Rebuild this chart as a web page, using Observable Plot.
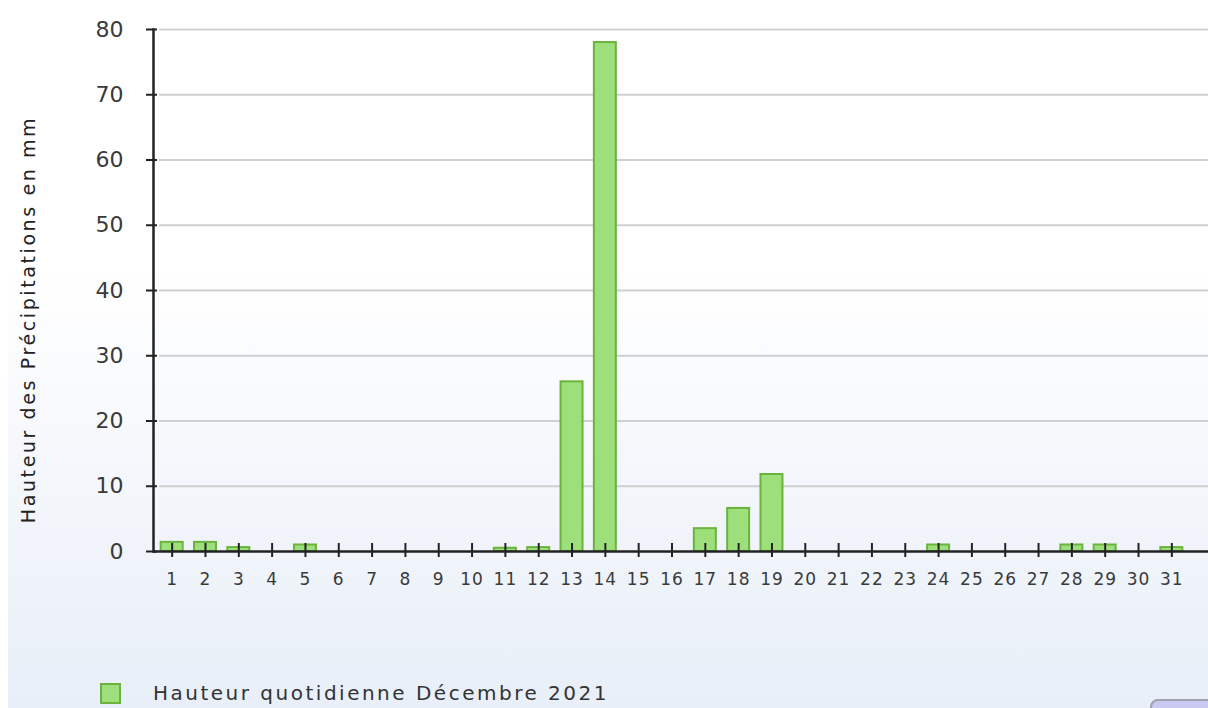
<!DOCTYPE html>
<html>
<head>
<meta charset="utf-8">
<script src="https://cdn.jsdelivr.net/npm/d3@7"></script>
<script src="https://cdn.jsdelivr.net/npm/@observablehq/plot@0.6"></script>
<style>
  html, body { margin: 0; padding: 0; width: 1208px; height: 708px; overflow: hidden; background: #ffffff; }
  #panel { position: absolute; left: 8px; top: 0; width: 1200px; height: 708px;
    background: linear-gradient(to bottom, #ffffff 0%, #ffffff 38%, #f3f6fb 70%, #e8eff8 100%); }
  #chart { position: absolute; left: 0; top: 0; }
  #chart svg { background: transparent; }
  #chart g[aria-label="text"] text { letter-spacing: 2.6px; }
  #chart g[aria-label="x-axis tick label"] text { letter-spacing: 1px; }
  #legend { position: absolute; left: 100px; top: 681px; display: flex; align-items: center;
    font-family: "DejaVu Sans", sans-serif; font-size: 20px; color: #333; letter-spacing: 2.5px; }
  #legend .sw { width: 17px; height: 17px; background: #9ddf7b; border: 2px solid #6cb23f; margin-right: 32px; }
  #corner { position: absolute; left: 1150px; top: 699px; width: 70px; height: 20px;
    background: #c9c9f2; border: 2px solid #a0a0b0; border-radius: 8px; }
</style>
</head>
<body>
<div id="panel"></div>
<div id="chart"></div>
<div id="legend"><div class="sw"></div><span>Hauteur quotidienne Décembre 2021</span></div>
<div id="corner"></div>
<script>
const days = [1,2,3,4,5,6,7,8,9,10,11,12,13,14,15,16,17,18,19,20,21,22,23,24,25,26,27,28,29,30,31];
const rain = [1.4,1.4,0.6,0,1.0,0,0,0,0,0,0.5,0.6,26,78,0,0,3.5,6.6,11.8,0,0,0,0,1.0,0,0,0,1.0,1.0,0,0.6];
const yTicks = [0,10,20,30,40,50,60,70,80];
const yTitle = "Hauteur des Précipitations en mm";

const data = days.map((d, i) => ({day: d, value: rain[i]}));

const chart = Plot.plot({
  width: 1208,
  height: 640,
  marginLeft: 153,
  marginRight: 0,
  marginTop: 29,
  marginBottom: 89,
  style: {background: "transparent", fontFamily: "DejaVu Sans, sans-serif"},
  x: {type: "band", domain: days, paddingInner: 0.34, paddingOuter: 0.17, round: false, insetLeft: 2, insetRight: 20, label: null},
  y: {domain: [0, 80], label: null},
  marks: [
    Plot.ruleY(yTicks.filter(t => t > 0), {stroke: "#cfcfcf", strokeWidth: 2, insetLeft: 6}),
    Plot.barY(data.filter(d => d.value > 0), {x: "day", y: "value", fill: "#9ddf7b", stroke: "#6cb23f", strokeWidth: 2}),
    Plot.frame({anchor: "left", stroke: "#222", strokeWidth: 2.5}),
    Plot.ruleY([0], {stroke: "#222", strokeWidth: 2.5}),
    Plot.axisX({tickSize: 14, dy: -8, text: null, stroke: "#222", strokeWidth: 2, label: null}),
    Plot.axisX({tickSize: 0, tickPadding: 21, fontSize: 17, fill: "#3a3a3a", label: null}),
    Plot.axisY({ticks: yTicks, tickSize: 11, dx: 4, text: null, stroke: "#222", strokeWidth: 2, label: null}),
    Plot.axisY({ticks: yTicks, tickSize: 0, tickPadding: 30, fontSize: 22, fill: "#3a3a3a", label: null}),
    Plot.text([yTitle], {frameAnchor: "left", textAnchor: "middle", rotate: -90, dx: -125, dy: 29, fontSize: 19, fill: "#222"})
  ]
});
document.getElementById("chart").appendChild(chart);
</script>
</body>
</html>
